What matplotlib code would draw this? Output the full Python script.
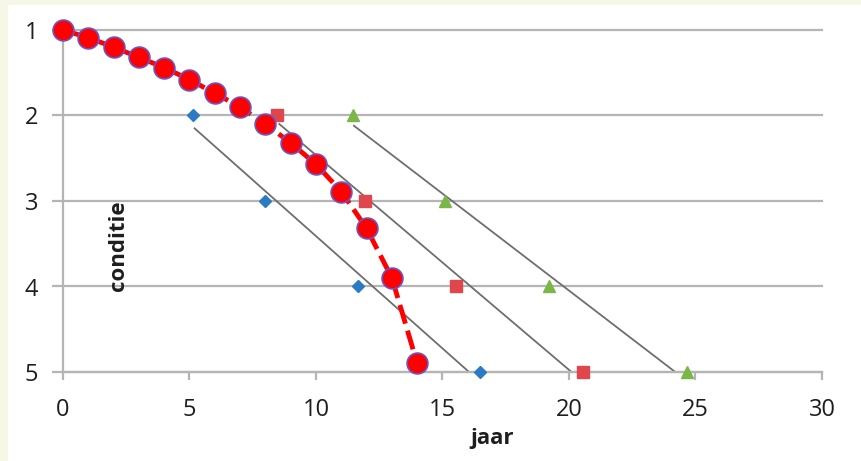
import matplotlib.pyplot as plt
from matplotlib.patches import Rectangle

# condition curve (red circles)
jaar = [0, 1, 2, 3, 4, 5, 6, 7, 8, 9, 10, 11, 12, 13, 14]
conditie = [1.0, 1.09, 1.2, 1.32, 1.44, 1.58, 1.74, 1.9, 2.1, 2.32, 2.57, 2.89, 3.32, 3.9, 4.9]

klassen = [2, 3, 4, 5]
blauw_x = [5.15, 8.0, 11.65, 16.5]
rood_x = [8.45, 11.95, 15.55, 20.55]
groen_x = [11.45, 15.1, 19.2, 24.65]

# gray trend lines: (start x, start y) -> (end x, end y)
lijn_x = [[5.2, 16.05], [8.55, 20.1], [11.5, 24.2]]
lijn_y = [[2.15, 5.0], [2.1, 5.0], [2.12, 5.0]]

xticks = [0, 5, 10, 15, 20, 25, 30]
yticks = [1, 2, 3, 4, 5]

plt.rcParams['font.family'] = ['Open Sans', 'DejaVu Sans']

fig = plt.figure(figsize=(8.61, 4.61), dpi=100)
fig.patch.set_facecolor('#f6f7e6')
fig.patches.append(Rectangle((8 / 861, 0), 1, 1 - 5 / 461, transform=fig.transFigure,
                             facecolor='white', edgecolor='none', zorder=-5))

ax = fig.add_axes([63 / 861, 89 / 461, 759 / 861, 342 / 461])
ax.set_zorder(2)
ax.set_facecolor('white')
ax.set_xlim(0, 30)
ax.set_ylim(5, 1)

for y in yticks:
    ax.axhline(y, color='#b5b5b5', lw=1.6, zorder=1, clip_on=False)

for lx, ly in zip(lijn_x, lijn_y):
    ax.plot(lx, ly, color='#6e6e6e', lw=1.3, zorder=2)

ax.plot(blauw_x, klassen, 'D', color='#2a7bc4', ms=6, zorder=3, clip_on=False)
ax.plot(rood_x, klassen, 's', color='#e0474c', ms=8, zorder=3, clip_on=False)
ax.plot(groen_x, klassen, '^', color='#7ab648', ms=8, zorder=3, clip_on=False)

ax.plot(jaar, conditie, color='red', lw=3.5, ls=(0, (4, 1.5)), zorder=4, clip_on=False)
ax.plot(jaar, conditie, 'o', color='red', mec='#6a55c8', mew=1.2, ms=15, zorder=5,
        clip_on=False)

for s in ['top', 'right']:
    ax.spines[s].set_visible(False)
ax.spines['left'].set_color('#b5b5b5')
ax.spines['bottom'].set_color('#b5b5b5')
ax.spines['left'].set_linewidth(1.6)
ax.spines['bottom'].set_linewidth(1.6)

ax.set_xticks(xticks)
ax.set_yticks(yticks)
ax.tick_params(axis='y', length=8, width=1.6, color='#b5b5b5', labelsize=17,
               labelcolor='#1e1e1e', pad=10)
ax.tick_params(axis='x', length=6, width=1.6, color='#b5b5b5', labelsize=17,
               labelcolor='#1e1e1e', pad=13)

fig.text(492 / 861, 1 - 438 / 461, 'jaar', fontsize=16, fontweight='bold',
         ha='center', va='center', color='#1e1e1e')
fig.text(118 / 861, 1 - 246 / 461, 'conditie', fontsize=16, fontweight='bold',
         rotation=90, ha='center', va='center', color='#1e1e1e')

fig.savefig('out.png', dpi=100)
